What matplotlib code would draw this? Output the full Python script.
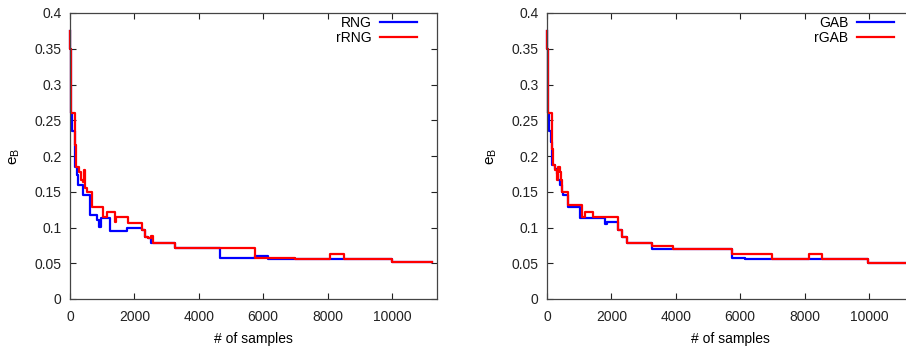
import matplotlib
matplotlib.use("Agg")
import matplotlib.pyplot as plt

plt.rcParams['font.family'] = ['Liberation Sans', 'DejaVu Sans']

# step positions (# of samples) and error values
rng_x = [0, 15, 30, 60, 155, 207, 259, 393, 621, 829, 910, 963, 1242, 1761, 2227,
         2330, 2433, 2516, 3261, 4659, 5750, 6160, 10000, 11250]
rng_y = [0.375, 0.35, 0.26, 0.235, 0.185, 0.173, 0.159, 0.145, 0.117, 0.11, 0.101, 0.113,
         0.0955, 0.099, 0.0965, 0.087, 0.085, 0.078, 0.071, 0.057, 0.060, 0.0555, 0.0515, 0.0515]

rrng_x = [0, 15, 30, 150, 165, 180, 200, 280, 330, 400, 435, 480, 519, 674, 1034, 1140,
          1410, 1440, 1811, 2227, 2330, 2433, 2516, 2578, 3261, 5750, 6990, 8076, 8510,
          10000, 11250]
rrng_y = [0.375, 0.35, 0.26, 0.235, 0.215, 0.195, 0.185, 0.178, 0.166, 0.163, 0.18, 0.155,
          0.15, 0.129, 0.115, 0.122, 0.108, 0.114, 0.106, 0.0965, 0.087, 0.085, 0.088, 0.078,
          0.071, 0.058, 0.0555, 0.063, 0.0555, 0.0515, 0.0515]

gab_x = [0, 15, 30, 60, 130, 170, 250, 300, 350, 400, 456, 500, 663, 1030, 1804, 1857,
         2217, 2323, 2479, 3256, 5744, 6158, 9961, 11400]
gab_y = [0.375, 0.35, 0.26, 0.235, 0.22, 0.187, 0.182, 0.175, 0.166, 0.16, 0.15, 0.145,
         0.129, 0.113, 0.105, 0.108, 0.0965, 0.087, 0.078, 0.0705, 0.058, 0.0555, 0.051, 0.051]

rgab_x = [0, 15, 30, 146, 160, 177, 249, 302, 351, 404, 435, 456, 663, 1079, 1182, 1440,
          2217, 2323, 2479, 3256, 3928, 5744, 6988, 8126, 8543, 9961, 11400]
rgab_y = [0.375, 0.35, 0.26, 0.25, 0.21, 0.187, 0.18, 0.166, 0.185, 0.178, 0.166, 0.15,
          0.131, 0.115, 0.122, 0.114, 0.0965, 0.087, 0.078, 0.074, 0.0705, 0.0625, 0.0555,
          0.063, 0.0555, 0.051, 0.051]

x_ticks = [0, 2000, 4000, 6000, 8000, 10000]
y_ticks = [0, 0.05, 0.1, 0.15, 0.2, 0.25, 0.3, 0.35, 0.4]
y_labels = ["0", "0.05", "0.1", "0.15", "0.2", "0.25", "0.3", "0.35", "0.4"]

fig = plt.figure(figsize=(9.06, 3.49), dpi=100)
ax1 = fig.add_axes([70 / 906, 1 - 299 / 349, 367 / 906, 286 / 349])
ax2 = fig.add_axes([547 / 906, 1 - 299 / 349, 367 / 906, 286 / 349])

panels = [
    (ax1, rng_x, rng_y, "RNG", rrng_x, rrng_y, "rRNG"),
    (ax2, gab_x, gab_y, "GAB", rgab_x, rgab_y, "rGAB"),
]

for ax, bx, by, blab, rx, ry, rlab in panels:
    ax.plot(bx, by, drawstyle="steps-post", color="#0000ff", linewidth=1.6,
            label=blab, clip_on=False)
    ax.plot(rx, ry, drawstyle="steps-post", color="#ff0000", linewidth=1.6,
            label=rlab, clip_on=False)
    ax.set_xlim(0, 11400)
    ax.set_ylim(0, 0.4)
    ax.set_xticks(x_ticks)
    ax.set_yticks(y_ticks)
    ax.set_yticklabels(y_labels)
    ax.tick_params(direction="in", length=4, width=0.8, top=True, right=True,
                   labelsize=10, colors="#222222")
    ax.tick_params(axis="x", pad=8)
    ax.tick_params(axis="y", pad=6)
    for sp in ax.spines.values():
        sp.set_color("#444444")
        sp.set_linewidth(0.9)
    ax.set_xlabel("# of samples", fontsize=10, labelpad=6)
    ax.set_ylabel(r"$\mathregular{e_B}$", fontsize=11, labelpad=9)
    ax.legend(loc="upper right", bbox_to_anchor=(1 - 14 / 367, 1 + 3 / 286),
              frameon=False, markerfirst=False, fontsize=10,
              handlelength=2.7, handletextpad=0.6, labelspacing=0.1,
              borderaxespad=0)

fig.savefig("out.png", dpi=100)
